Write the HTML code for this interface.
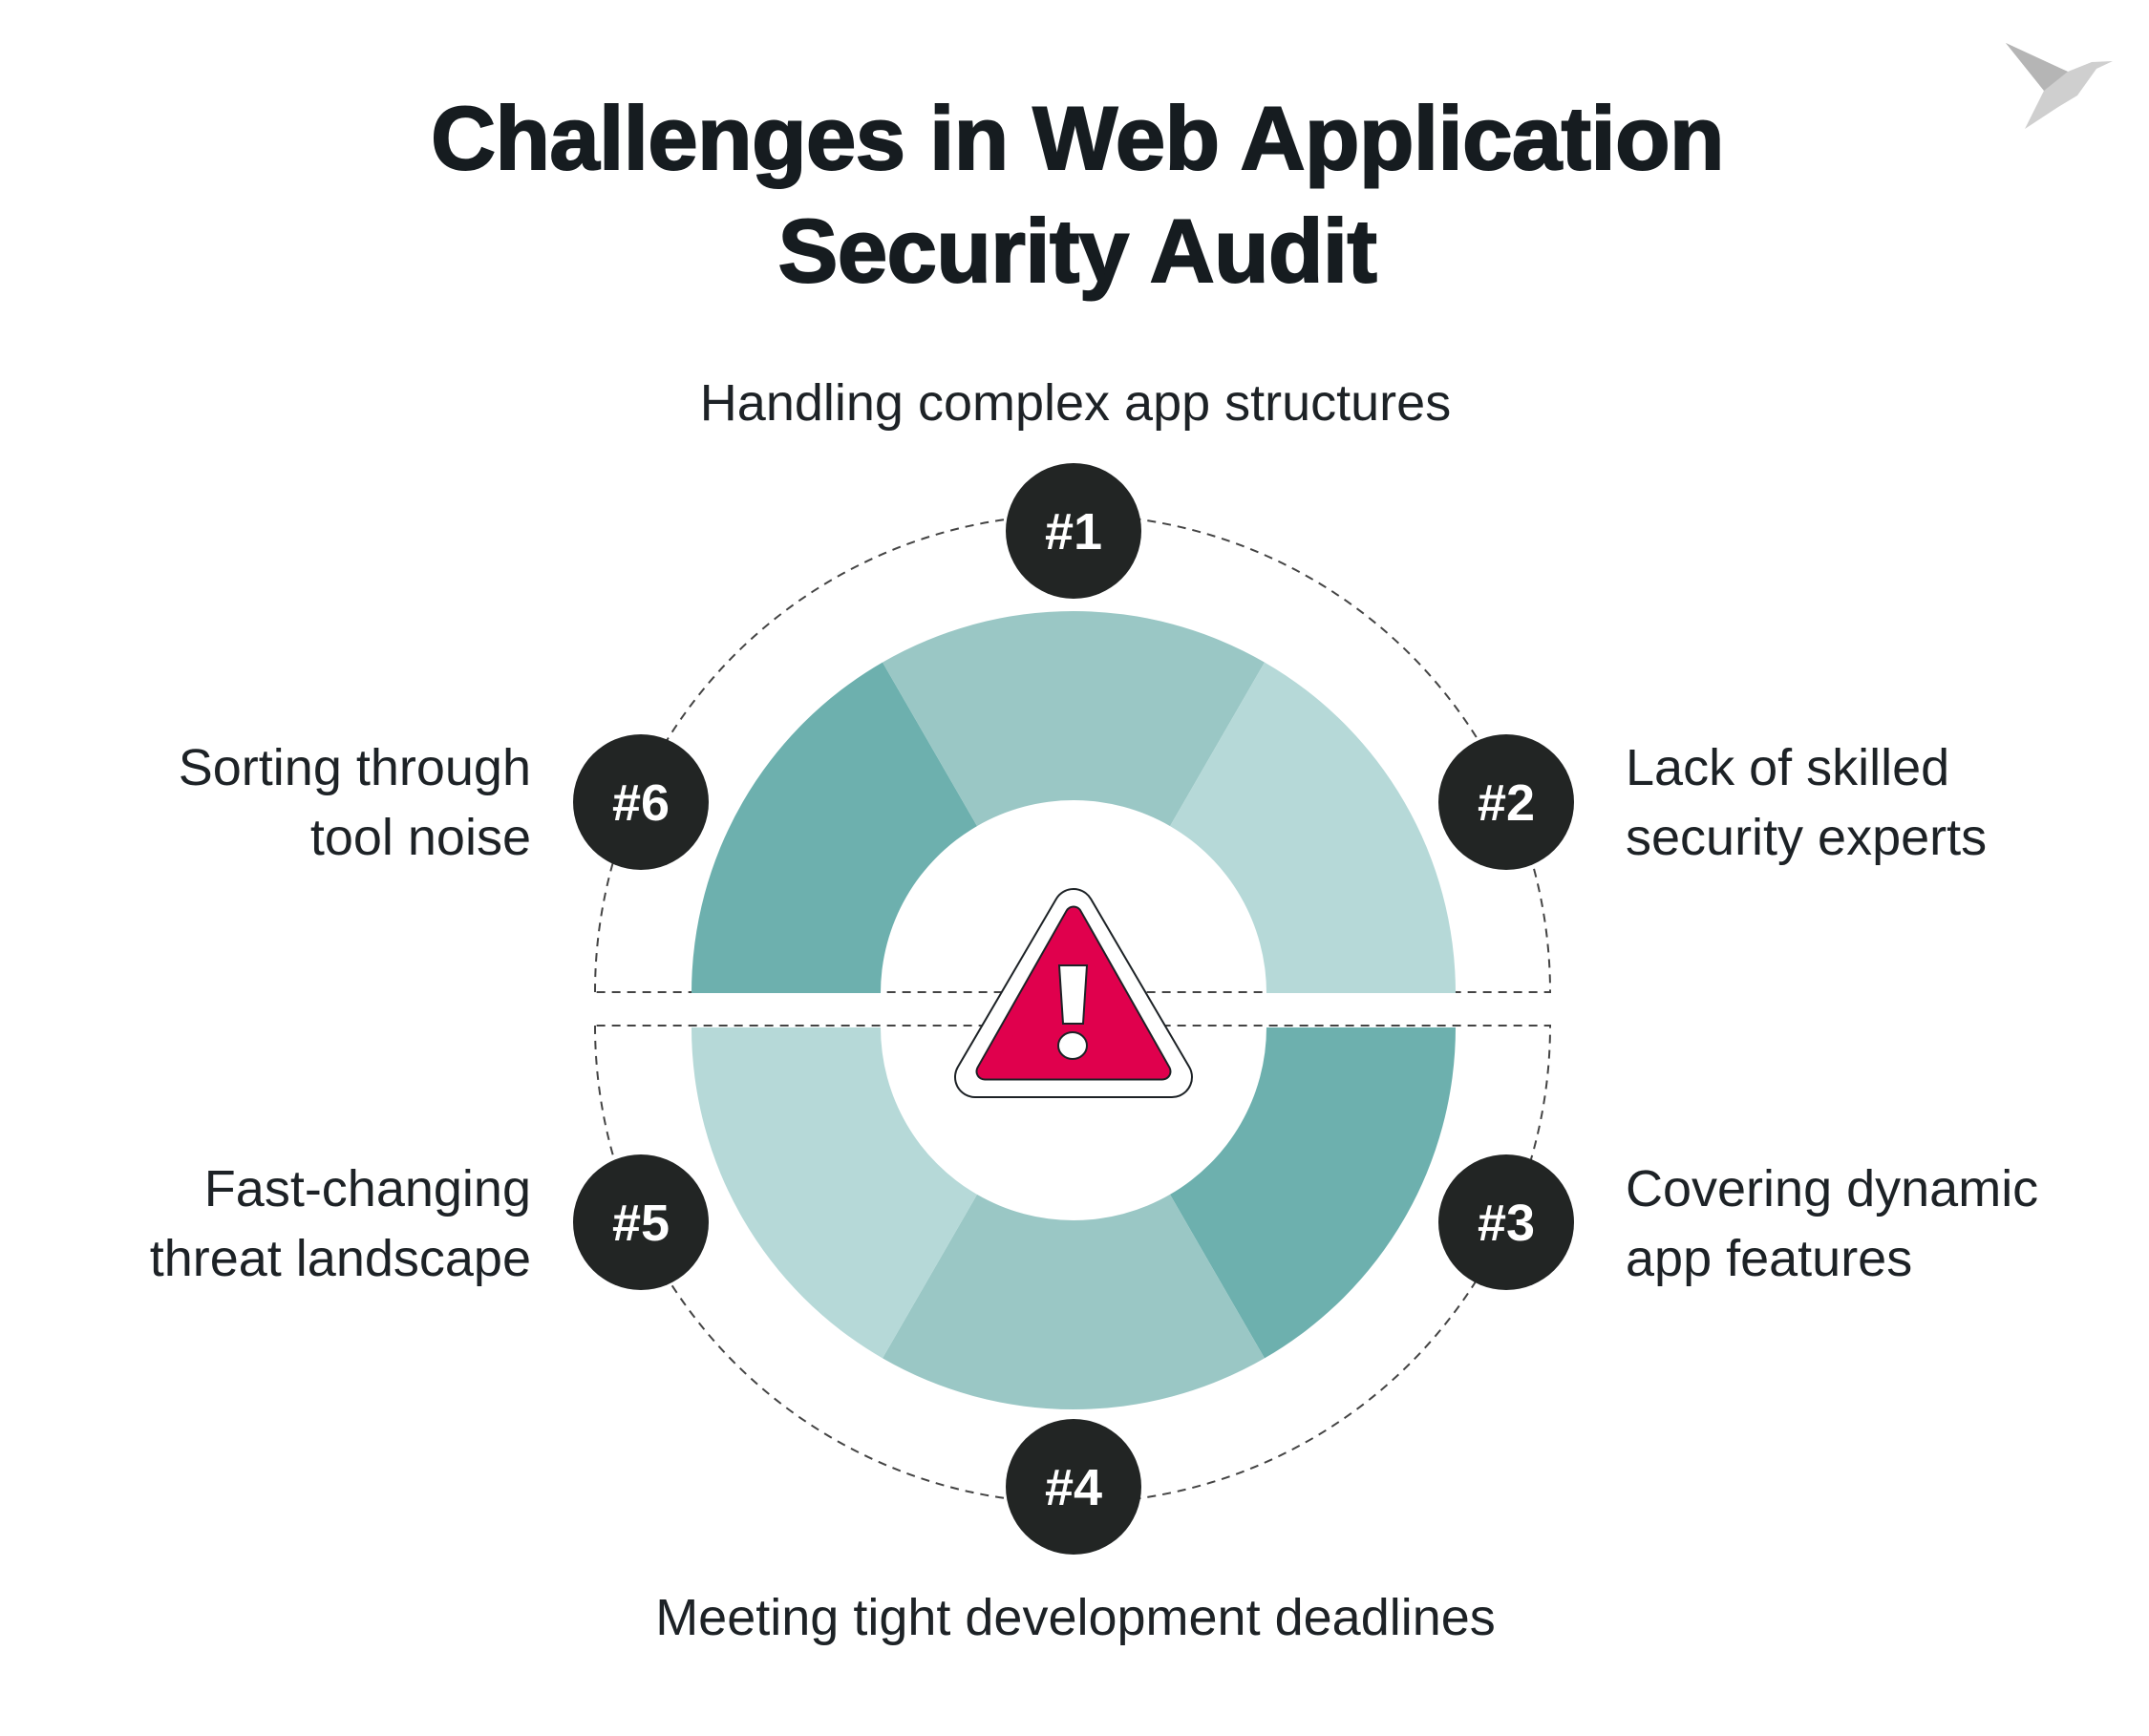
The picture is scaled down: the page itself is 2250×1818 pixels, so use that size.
<!DOCTYPE html>
<html><head><meta charset="utf-8"><style>
html,body{margin:0;padding:0;background:#fff}
svg{display:block}
text{font-family:"Liberation Sans",sans-serif}
</style></head><body>
<svg width="2250" height="1818" viewBox="0 0 2250 1818" xmlns="http://www.w3.org/2000/svg">
<rect width="2250" height="1818" fill="#fff"/>
<polygon points="2100,45 2165,75 2190,65 2212,64 2195,72 2175,100 2155,112 2120,135 2140,95" fill="#cfcfcf"/>
<polygon points="2100,45 2140,95 2165,75" fill="#b5b5b5"/>
<text x="1128" y="177" text-anchor="middle" font-size="94" font-weight="900" fill="#161c20" stroke="#161c20" stroke-width="2" style="letter-spacing:-0.5px">Challenges in Web Application</text>
<text x="1128" y="295" text-anchor="middle" font-size="94" font-weight="900" fill="#161c20" stroke="#161c20" stroke-width="2" style="letter-spacing:-0.5px">Security Audit</text>
<g fill="none" stroke="#444" stroke-width="2" stroke-dasharray="9 7">
<path d="M623,1039 A500,500 0 0 1 1623,1039 Z"/>
<path d="M623,1074 A500,500 0 0 0 1623,1074 Z"/>
</g>
<g transform="translate(-4,0)">
<path d="M728,1040 A400,400 0 0 1 928,693.6 L1027,865.1 A202,202 0 0 0 926,1040 Z" fill="#6db0ae"/>
<path d="M928,693.6 A400,400 0 0 1 1328,693.6 L1229,865.1 A202,202 0 0 0 1027,865.1 Z" fill="#9ac7c5"/>
<path d="M1328,693.6 A400,400 0 0 1 1528,1040 L1330,1040 A202,202 0 0 0 1229,865.1 Z" fill="#b6d9d8"/>
<path d="M1528,1076 A400,400 0 0 1 1328,1422.4 L1229,1250.9 A202,202 0 0 0 1330,1076 Z" fill="#6db0ae"/>
<path d="M1328,1422.4 A400,400 0 0 1 928,1422.4 L1027,1250.9 A202,202 0 0 0 1229,1250.9 Z" fill="#9ac7c5"/>
<path d="M928,1422.4 A400,400 0 0 1 728,1076 L926,1076 A202,202 0 0 0 1027,1250.9 Z" fill="#b6d9d8"/>
</g>
<polygon points="1124,952 1021,1128 1227,1128" fill="#1d2226" stroke="#1d2226" stroke-width="44" stroke-linejoin="round"/>
<polygon points="1124,952 1021,1128 1227,1128" fill="#fff" stroke="#fff" stroke-width="40" stroke-linejoin="round"/>
<polygon points="1124,958 1031,1122 1217,1122" fill="#e0004d" stroke="#1d2226" stroke-width="19" stroke-linejoin="round"/>
<polygon points="1124,958 1031,1122 1217,1122" fill="#e0004d" stroke="#e0004d" stroke-width="15" stroke-linejoin="round"/>
<polygon points="1109,1011 1138,1011 1134,1072 1113,1072" fill="#fff" stroke="#1d2226" stroke-width="2"/>
<ellipse cx="1123" cy="1095" rx="15" ry="14" fill="#fff" stroke="#1d2226" stroke-width="2"/>
<g fill="#222524">
<circle cx="1124" cy="556" r="71"/>
<circle cx="1577" cy="840" r="71"/>
<circle cx="671" cy="840" r="71"/>
<circle cx="1577" cy="1280" r="71"/>
<circle cx="671" cy="1280" r="71"/>
<circle cx="1124" cy="1557" r="71"/>
</g>
<g fill="#fff" font-size="54" font-weight="900" text-anchor="middle">
<text x="1124" y="575">#1</text>
<text x="1577" y="859">#2</text>
<text x="671" y="859">#6</text>
<text x="1577" y="1299">#3</text>
<text x="671" y="1299">#5</text>
<text x="1124" y="1576">#4</text>
</g>
<g fill="#1d2226" font-size="54">
<text x="1126" y="440" text-anchor="middle">Handling complex app structures</text>
<text x="1126" y="1712" text-anchor="middle">Meeting tight development deadlines</text>
<text x="1702" y="822">Lack of skilled</text>
<text x="1702" y="895">security experts</text>
<text x="1702" y="1263">Covering dynamic</text>
<text x="1702" y="1336">app features</text>
<text x="556" y="822" text-anchor="end">Sorting through</text>
<text x="556" y="895" text-anchor="end">tool noise</text>
<text x="556" y="1263" text-anchor="end">Fast-changing</text>
<text x="556" y="1336" text-anchor="end">threat landscape</text>
</g>
</svg>
</body></html>
